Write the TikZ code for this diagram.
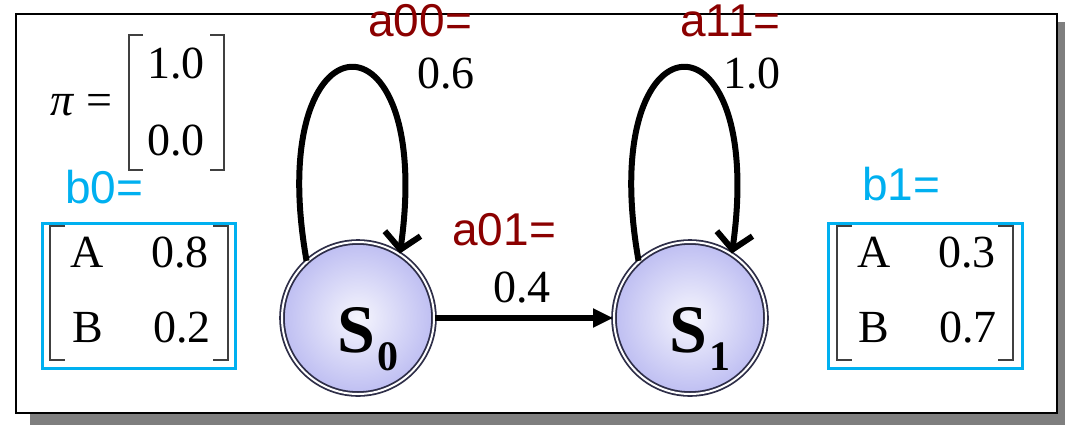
\documentclass[tikz,border=0pt]{standalone}
\usepackage{fontspec}
\setmainfont{Liberation Serif}
\newfontfamily\labfont{Liberation Sans}
\usetikzlibrary{arrows.meta,positioning}
\definecolor{Maroon}{HTML}{8B0000}
\definecolor{Sky}{HTML}{00B0F0}
\definecolor{Lav}{HTML}{BEBEF2}
\definecolor{Rim}{HTML}{2E2E48}
\definecolor{Shade}{HTML}{7F7F7F}

\begin{document}
\begin{tikzpicture}[x=0.5pt,y=0.5pt,
    num/.style={anchor=base west,inner sep=0pt,font=\fontsize{23}{27}\selectfont},
    prob/.style={anchor=base west,inner sep=0pt,font=\labfont\fontsize{23}{27}\selectfont,text=Maroon},
    emis/.style={prob,text=Sky},
    hmmstate/.style={circle,draw=Rim,double=white,double distance=1pt,line width=0.9pt,
      inner color=Lav!15,outer color=Lav,minimum size=76pt,
      font=\bfseries\fontsize{34}{38}\selectfont,text height=38pt,text depth=4pt},
    brak/.style={draw=black!75,line width=1pt},
    hop/.style={line width=2.8pt,-{Triangle[length=10pt,width=9pt]}},
    self/.style={line width=3pt,-{Straight Barb[length=8pt,width=18pt]}}]
    \useasboundingbox (0,0) rectangle (1065,425);
    \fill[white] (0,0) rectangle (1065,425);
    % frame with shadow
    \fill[Shade] (30,0) rectangle (1065,403);
    \draw[fill=white,line width=1pt] (16,12) rectangle (1057,411);
    % brackets: left/right/top/bottom/tick
    \foreach \l/\r/\t/\b/\k in {129/224/390/255/14, 50/228/199/65/15, 837/1013/199/65/15}{
      \draw[brak] (\l+\k,\t) -- (\l,\t) -- (\l,\b) -- (\l+\k,\b);
      \draw[brak] (\r-\k,\t) -- (\r,\t) -- (\r,\b) -- (\r-\k,\b);
    }
    % initial vector
    \node[num] (pi) at (50,310) {\textit{π} =};
    \node[num] (pi0) at (147,347) {1.0};
    \node[num] (pi1) at (147,270) {0.0};
    % emission tables
    \draw[Sky,line width=1.5pt] (42,57) rectangle (235,202);
    \draw[Sky,line width=1.5pt] (828,57) rectangle (1022,202);
    \node[emis] (b0) at (65,222) {b0=};
    \node[emis] (b1) at (862,225) {b1=};
    \foreach \x/\y/\s/\v/\n in {70/158/A/0.8/b0a, 72/83/B/0.2/b0b, 857/158/A/0.3/b1a, 858/83/B/0.7/b1b}{
      \node[num] (\n) at (\x,\y) {\s};
      \node[num] (\n v) at (\x+81,\y) {\v};
    }
    % states
    \node[hmmstate] (s0) at (358,107) {\hspace*{10pt}S\hspace{1pt}\raisebox{-9pt}{\fontsize{21}{21}\selectfont 0}};
    \node[hmmstate] (s1) at (690,107) {\hspace*{10pt}S\hspace{1pt}\raisebox{-9pt}{\fontsize{21}{21}\selectfont 1}};
    \draw[hop] (s0) -- (s1);
    \draw[self] (s0.132) to[out=100,in=82,looseness=7] (s0.57);
    \draw[self] (s1.132) to[out=100,in=82,looseness=7] (s1.57);
    % transition labels
    \node[prob] (a00) at (368,389) {a00=};
    \node[num] (p00) at (417,337) {0.6};
    \node[prob] (a11) at (680,389) {a11=};
    \node[num] (p11) at (723,337) {1.0};
    \node[prob] (a01) at (452,180) {a01=};
    \node[num] (p01) at (493,123) {0.4};
\end{tikzpicture}
\end{document}
